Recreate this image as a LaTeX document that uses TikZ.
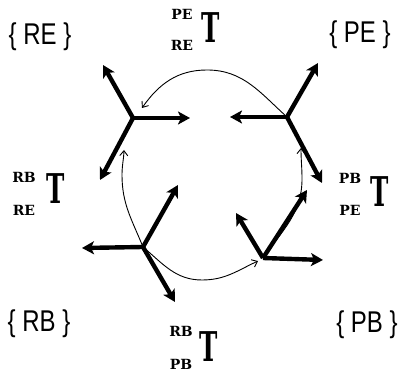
\documentclass[tikz,border=0pt]{standalone}
\usepackage{fontspec}
\newfontfamily\lblfont{Liberation Sans}
\newfontfamily\heavyfont{DejaVu Serif}[BoldFont={DejaVu Serif Bold}]
\usetikzlibrary{arrows.meta}
\begin{document}
\begin{tikzpicture}[x=1pt,y=1pt,
  axis/.style={line width=4.4pt,-{Stealth[length=12pt,width=13pt,inset=3pt]}},
  arcline/.style={line width=0.9pt,-{Straight Barb[length=5pt,width=8pt]}},
  setlbl/.style={font=\lblfont\fontsize{30}{30}\selectfont, xscale=0.8, inner sep=0, anchor=base},
  small/.style={font=\heavyfont\bfseries\fontsize{14}{14}\selectfont, inner sep=0},
  bigT/.style={font=\heavyfont\bfseries\fontsize{41}{41}\selectfont, xscale=0.6, inner sep=0}]
\useasboundingbox (0,0) rectangle (402,374);
% frame origins
\coordinate (RE) at (133,256);
\coordinate (PE) at (287,257);
\coordinate (RB) at (143,127);
\coordinate (PB) at (263,116);
% axis tips
\coordinate (REr) at (190,256);
\coordinate (REu) at (103,309);
\coordinate (REd) at (100,194);
\coordinate (PEl) at (230,257);
\coordinate (PEu) at (318,311);
\coordinate (PEd) at (322,191);
\coordinate (RBl) at (82,126);
\coordinate (RBu) at (178,189);
\coordinate (RBd) at (175,72);
\coordinate (PBr) at (323,114);
\coordinate (PBl) at (236,161);
\coordinate (PBu) at (307,184);
% arc helper points
\coordinate (top) at (207,304);
\coordinate (aRE) at (142,266);
\coordinate (lft) at (122,199);
\coordinate (aL) at (124,224);
\coordinate (bot) at (202,94);
\coordinate (aB) at (258,113);
\coordinate (rgt) at (302,195);
\coordinate (aR) at (301,226);
% arcs
\draw[arcline] (PE) to[out=138,in=0] (top) to[out=180,in=55] (aRE);
\draw[arcline] (RB) to[out=112,in=-90] (lft) to[out=90,in=-92] (aL);
\draw[arcline] (RB) to[out=-40,in=180] (bot) to[out=0,in=205] (aB);
\draw[arcline] (PB) to[out=55,in=-90] (rgt) to[out=90,in=-90] (aR);
% axes
\draw[axis] (RE) -- (REr);
\draw[axis] (RE) -- (REu);
\draw[axis] (RE) -- (REd);
\draw[axis] (PE) -- (PEl);
\draw[axis] (PE) -- (PEu);
\draw[axis] (PE) -- (PEd);
\draw[axis] (RB) -- (RBl);
\draw[axis] (RB) -- (RBu);
\draw[axis] (RB) -- (RBd);
\draw[axis] (PB) -- (PBr);
\draw[axis] (PB) -- (PBl);
\draw[axis] (PB) -- (PBu);
% set labels
\node[setlbl] (sRE) at (40,329) {\{ RE \}};
\node[setlbl] (sPE) at (360,331) {\{ PE \}};
\node[setlbl] (sRB) at (39,42) {\{ RB \}};
\node[setlbl] (sPB) at (367,41) {\{ PB \}};
% transform labels
\node[small] (t1a) at (182,360) {PE};
\node[small] (t1b) at (182,329) {RE};
\node[bigT]  (t1T) at (211,346) {T};
\node[small] (t2a) at (24,197) {RB};
\node[small] (t2b) at (24,164) {RE};
\node[bigT]  (t2T) at (56,185) {T};
\node[small] (t3a) at (350,196) {PB};
\node[small] (t3b) at (350,164) {PE};
\node[bigT]  (t3T) at (380,182) {T};
\node[small] (t4a) at (181,43) {RB};
\node[small] (t4b) at (181,10) {PB};
\node[bigT]  (t4T) at (209,27) {T};
\end{tikzpicture}
\end{document}
